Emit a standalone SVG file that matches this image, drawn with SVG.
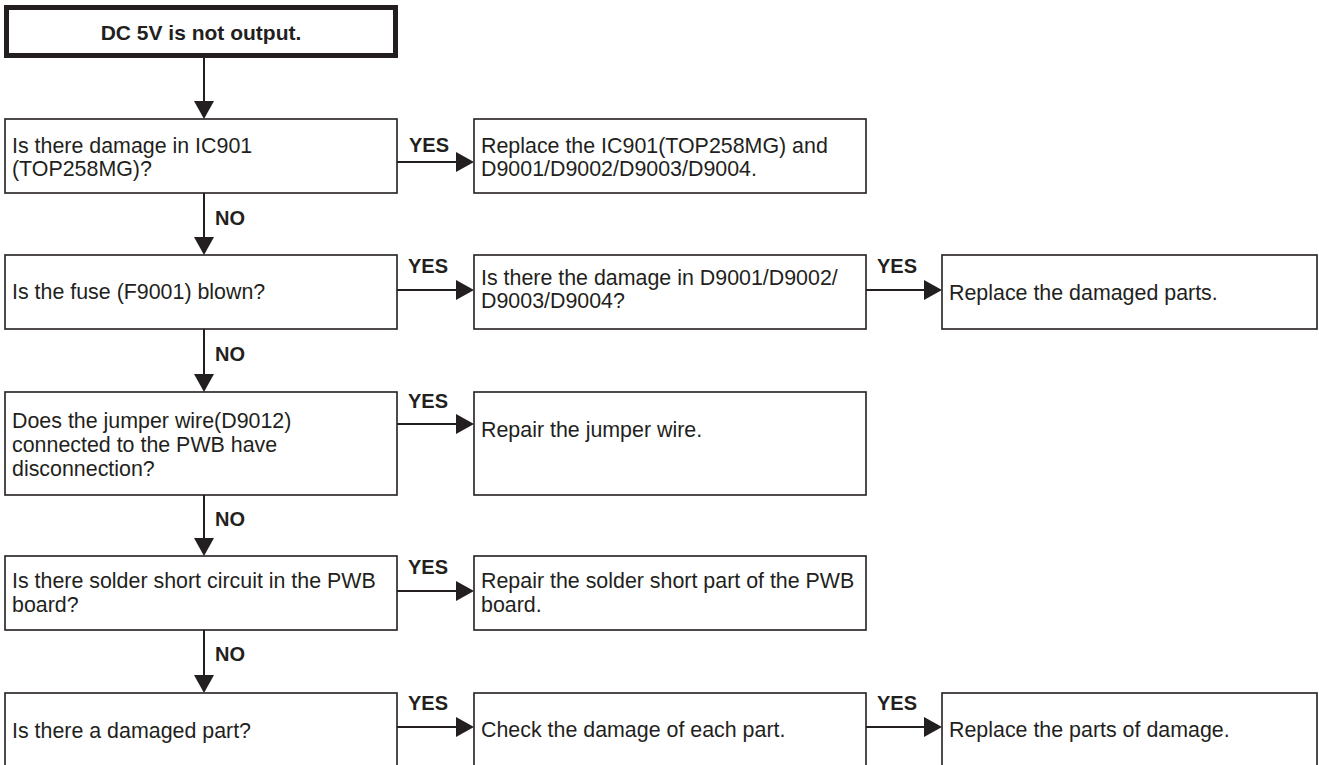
<svg xmlns="http://www.w3.org/2000/svg" width="1319" height="765" viewBox="0 0 1319 765">
<style>
.box{fill:#fff;stroke:#231f20;stroke-width:1.6}
.start{fill:#fff;stroke:#231f20;stroke-width:5}
.t{font-family:"Liberation Sans",Arial,sans-serif;font-size:21.4px;fill:#231f20}
.b{font-family:"Liberation Sans",Arial,sans-serif;font-size:20px;font-weight:bold;fill:#231f20}
.tb{font-family:"Liberation Sans",Arial,sans-serif;font-size:21px;font-weight:bold;fill:#231f20}
.c{stroke:#231f20;stroke-width:2;fill:none;marker-end:url(#ah)}
</style>
<defs>
<marker id="ah" markerUnits="userSpaceOnUse" markerWidth="20" markerHeight="22" refX="8" refY="10" orient="auto">
<path d="M0,0 L18,10 L0,20 Z" fill="#231f20"/>
</marker>
</defs>
<rect width="1319" height="765" fill="#fff"/>
<g id="connectors">
<line class="c" x1="204" y1="58" x2="204" y2="109"/>
<line class="c" x1="204" y1="193" x2="204" y2="245"/>
<line class="c" x1="204" y1="329" x2="204" y2="382"/>
<line class="c" x1="204" y1="495" x2="204" y2="546"/>
<line class="c" x1="204" y1="630" x2="204" y2="683"/>
<line class="c" x1="397" y1="162" x2="464" y2="162"/>
<line class="c" x1="397" y1="290" x2="464" y2="290"/>
<line class="c" x1="866" y1="290" x2="932" y2="290"/>
<line class="c" x1="397" y1="424" x2="464" y2="424"/>
<line class="c" x1="397" y1="591" x2="464" y2="591"/>
<line class="c" x1="397" y1="727" x2="464" y2="727"/>
<line class="c" x1="866" y1="727" x2="932" y2="727"/>
<text class="b" x="409" y="152">YES</text>
<text class="b" x="408" y="273">YES</text>
<text class="b" x="877" y="273">YES</text>
<text class="b" x="408" y="408">YES</text>
<text class="b" x="408" y="574">YES</text>
<text class="b" x="408" y="710">YES</text>
<text class="b" x="877" y="710">YES</text>
<text class="b" x="215" y="225">NO</text>
<text class="b" x="215" y="361">NO</text>
<text class="b" x="215" y="526">NO</text>
<text class="b" x="215" y="661">NO</text>
</g>
<g id="start">
<rect class="start" x="6.5" y="7.5" width="389" height="48"/>
<text class="tb" x="201" y="40" text-anchor="middle">DC 5V is not output.</text>
</g>
<g id="q1">
<rect class="box" x="5" y="119" width="392" height="74"/>
<text class="t" x="12" y="153">Is there damage in IC901</text>
<text class="t" x="12" y="176">(TOP258MG)?</text>
</g>
<g id="a1">
<rect class="box" x="474" y="119" width="392" height="74"/>
<text class="t" x="481" y="153">Replace the IC901(TOP258MG) and</text>
<text class="t" x="481" y="176">D9001/D9002/D9003/D9004.</text>
</g>
<g id="q2">
<rect class="box" x="5" y="255" width="392" height="74"/>
<text class="t" x="12" y="299">Is the fuse (F9001) blown?</text>
</g>
<g id="q2b">
<rect class="box" x="474" y="255" width="392" height="74"/>
<text class="t" x="481" y="285">Is there the damage in D9001/D9002/</text>
<text class="t" x="481" y="308">D9003/D9004?</text>
</g>
<g id="a2">
<rect class="box" x="942" y="255" width="375" height="74"/>
<text class="t" x="949" y="300">Replace the damaged parts.</text>
</g>
<g id="q3">
<rect class="box" x="5" y="392" width="392" height="103"/>
<text class="t" x="12" y="428">Does the jumper wire(D9012)</text>
<text class="t" x="12" y="452">connected to the PWB have</text>
<text class="t" x="12" y="476">disconnection?</text>
</g>
<g id="a3">
<rect class="box" x="474" y="392" width="392" height="103"/>
<text class="t" x="481" y="437">Repair the jumper wire.</text>
</g>
<g id="q4">
<rect class="box" x="5" y="556" width="392" height="74"/>
<text class="t" x="12" y="588">Is there solder short circuit in the PWB</text>
<text class="t" x="12" y="612">board?</text>
</g>
<g id="a4">
<rect class="box" x="474" y="556" width="392" height="74"/>
<text class="t" x="481" y="588">Repair the solder short part of the PWB</text>
<text class="t" x="481" y="612">board.</text>
</g>
<g id="q5">
<rect class="box" x="5" y="693" width="392" height="78"/>
<text class="t" x="12" y="738">Is there a damaged part?</text>
</g>
<g id="q5b">
<rect class="box" x="474" y="693" width="392" height="78"/>
<text class="t" x="481" y="737">Check the damage of each part.</text>
</g>
<g id="a5">
<rect class="box" x="942" y="693" width="375" height="78"/>
<text class="t" x="949" y="737">Replace the parts of damage.</text>
</g>
</svg>
